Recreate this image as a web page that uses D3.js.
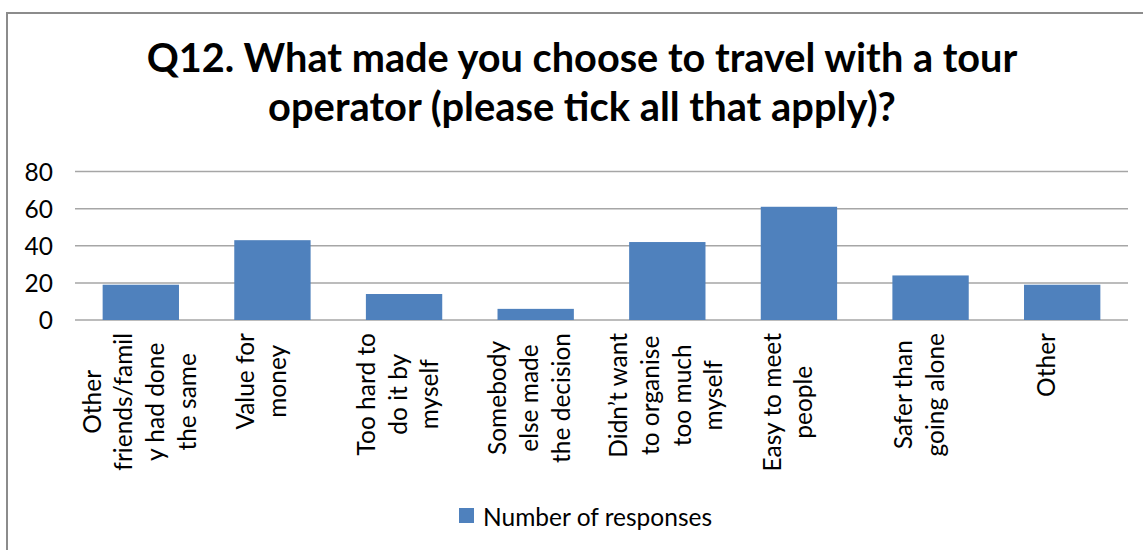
<!DOCTYPE html>
<html>
<head>
<meta charset="utf-8">
<script src="https://cdn.jsdelivr.net/npm/d3@7"></script>
<style>
  html, body { margin: 0; padding: 0; background: #fff; }
  svg { display: block; font-family: Lato, "Open Sans", sans-serif; }
</style>
</head>
<body>
<svg id="chart" width="1143" height="550"></svg>
<script>
// Survey question and answer options
const titleLines = [
  "Q12. What made you choose to travel with a tour",
  "operator (please tick all that apply)?"
];
const categories = [
  "Other friends/family had done the same",
  "Value for money",
  "Too hard to do it by myself",
  "Somebody else made the decision",
  "Didn’t want to organise too much myself",
  "Easy to meet people",
  "Safer than going alone",
  "Other"
];
// Wrapped lines of each category label
const categoryLines = [
  ["Other", "friends/famil", "y had done", "the same"],
  ["Value for", "money"],
  ["Too hard to", "do it by", "myself"],
  ["Somebody", "else made", "the decision"],
  ["Didn’t want", "to organise", "too much", "myself"],
  ["Easy to meet", "people"],
  ["Safer than", "going alone"],
  ["Other"]
];
const responses = [19, 43, 14, 6, 42, 61, 24, 19];
const yTicks = [0, 20, 40, 60, 80];
const seriesName = "Number of responses";

const svg = d3.select("#chart");
const barColor = "#4F81BD";
const gridColor = "#A6A6A6";

// Chart frame
svg.append("rect")
  .attr("x", 7).attr("y", 13)
  .attr("width", 1150).attr("height", 550)
  .attr("fill", "none").attr("stroke", "#8C8C8C").attr("stroke-width", 2);

// Title, each line fitted to its width
const titleWidths = [871, 628];
const titleBase = [72, 121];
titleLines.forEach((t, i) => {
  const el = svg.append("text")
    .attr("x", 582).attr("y", titleBase[i])
    .attr("text-anchor", "middle")
    .attr("font-weight", "bold")
    .attr("font-size", 36)
    .attr("fill", "#000")
    .text(t);
  const w = el.node().getComputedTextLength();
  el.attr("font-size", 36 * titleWidths[i] / w);
});

const x = d3.scaleBand()
  .domain(categories)
  .range([75, 1128])
  .paddingInner(0.42)
  .paddingOuter(0.21);

const y = d3.scaleLinear()
  .domain([0, 80])
  .range([320, 171.5]);

// Horizontal gridlines
svg.append("g")
  .selectAll("line")
  .data(yTicks)
  .join("line")
  .attr("x1", 75).attr("x2", 1128)
  .attr("y1", d => y(d)).attr("y2", d => y(d))
  .attr("stroke", gridColor).attr("stroke-width", 1.5);

// Y axis labels
const yAxis = d3.axisLeft(y).tickValues(yTicks).tickSize(0).tickPadding(0);
const yg = svg.append("g").attr("transform", "translate(53,0)").call(yAxis);
yg.select(".domain").remove();
yg.selectAll("text")
  .attr("font-family", "Lato, 'Open Sans', sans-serif")
  .attr("font-size", 24.5)
  .attr("fill", "#000")
  .attr("dy", "0.35em");

// Bars
svg.append("g")
  .selectAll("rect")
  .data(responses)
  .join("rect")
  .attr("x", (d, i) => x(categories[i]))
  .attr("width", x.bandwidth())
  .attr("y", d => y(d))
  .attr("height", d => y(0) - y(d))
  .attr("fill", barColor);

// Category labels, rotated and wrapped; shorter blocks sit a little left
const lineGap = 31.7;
const labelTop = 333;
const labelSize = 24.5;
const maxLines = d3.max(categoryLines, l => l.length);
const lg = svg.append("g")
  .attr("font-size", labelSize)
  .attr("fill", "#000");
categoryLines.forEach((lines, ci) => {
  const shift = -2 - (maxLines - lines.length) * 5;
  const cx = x(categories[ci]) + x.bandwidth() / 2 + shift;
  const g = lg.append("g");
  const texts = lines.map(ln => g.append("text")
    .attr("text-anchor", "middle")
    .attr("dominant-baseline", "central")
    .text(ln));
  const maxLen = d3.max(texts, t => t.node().getComputedTextLength());
  const cy = labelTop + maxLen / 2;
  texts.forEach((t, li) => {
    const lx = cx + (li - (lines.length - 1) / 2) * lineGap;
    t.attr("transform", `translate(${lx},${cy}) rotate(-90)`);
  });
});

// Legend
svg.append("rect")
  .attr("x", 459).attr("y", 508)
  .attr("width", 15).attr("height", 15)
  .attr("fill", barColor);
svg.append("text")
  .attr("x", 483).attr("y", 516)
  .attr("dominant-baseline", "central")
  .attr("font-size", 24.5)
  .attr("fill", "#000")
  .text(seriesName);
</script>
</body>
</html>
